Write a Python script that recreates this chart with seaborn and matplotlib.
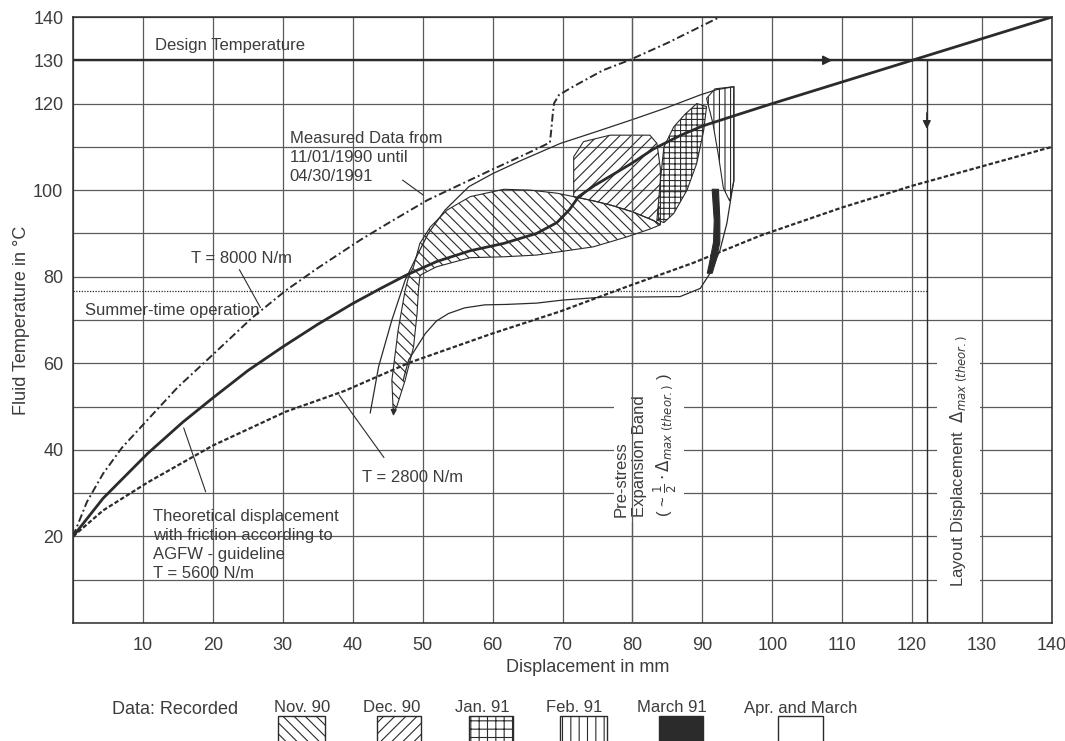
import matplotlib
matplotlib.use("Agg")
import matplotlib.pyplot as plt
from matplotlib.patches import Rectangle
import seaborn as sns

# ---- data (displacement in mm, temperature in degC) ----
# theoretical displacement with friction, AGFW guideline, T = 5600 N/m
t5600_x = [0, 4.3, 10.7, 15.7, 20, 25, 30, 35, 40, 44, 47.7, 52, 56.8, 61.6, 66.3, 69.2, 71,
           72.3, 74.5, 76.8, 80, 83, 86.8, 90, 94.2, 100, 110, 120, 130, 140]
t5600_y = [20, 28.8, 39.2, 46.4, 52, 58.3, 63.8, 69, 73.8, 77.3, 80.4, 83.5, 86, 87.7, 90, 92.5, 95.5,
           98.5, 101, 103.2, 106.3, 109.5, 112.6, 114.8, 117, 120, 125, 130, 135, 140]

# T = 8000 N/m (kinks upward near 68 mm)
t8000_x = [0, 2, 4.3, 7, 10.7, 15, 20, 25.6, 30.5, 35, 41.1, 45, 50.7, 55, 60, 65.5, 68.2,
           68.4, 68.6, 68.8, 69.5, 71.5, 75.8, 79.5, 85, 92.5]
t8000_y = [20, 28, 34.5, 40.5, 47, 54.5, 62, 70.5, 76.9, 82, 88.5, 92.3, 97.7, 101, 104.8, 108.9, 111,
           114, 117.5, 120.1, 122, 123.9, 127.7, 130, 134, 140]

# T = 2800 N/m
t2800_x = [0, 4.3, 10.7, 20, 30.4, 38.8, 48.2, 60, 69.7, 79.2, 88.7, 98.3, 110, 120, 130, 140]
t2800_y = [20, 26, 32.5, 41, 48.8, 53.6, 60.2, 66.9, 72, 77.7, 83.2, 89.5, 96, 101, 105.5, 110]

# measured data regions
nov_x = [45.8, 45.6, 46.5, 47.5, 48.0, 48.7, 49.6, 51.1, 53.5, 56.8, 61.6, 65.4, 69.2, 71.6, 74.5, 77,
         80, 83, 84, 82.5, 79.2, 74.4, 69.7, 66.3, 61.6, 56.8, 52, 49.8, 49.6, 49.4, 49.2, 48.7, 47.5, 46.3]
nov_y = [48.5, 56.1, 67.7, 76.9, 80, 82.3, 87.7, 91.5, 95.4, 98.5, 100.2, 100, 99.3, 98.5, 97.5, 96.5,
         95, 93, 92, 91, 89.2, 86.9, 85.8, 85, 84.6, 84.4, 82.3, 80.5, 80, 76.9, 71.5, 63.8, 56.1, 50]

dec_x = [71.6, 71.6, 71.6, 73, 76.8, 82.5, 83.5, 84, 84, 84, 83, 80, 77, 74.5]
dec_y = [98.5, 102.3, 107.7, 111.2, 112.7, 112.7, 110.8, 105, 100, 92, 93, 95, 96.5, 97.5]

jan_x = [83.5, 84, 84.5, 85.9, 87.5, 89.2, 90.6, 90.2, 89.2, 87.8, 85.9, 84.5]
jan_y = [93.1, 102.3, 110, 114.6, 117.5, 120, 119.3, 113.9, 106.2, 100, 94.6, 92.5]

feb_x = [90.6, 91.8, 94.5, 94.5, 93.9, 93.0, 92.3, 91.5]
feb_y = [121.2, 123.4, 123.9, 102, 97.5, 100.5, 108, 115.5]

mar_x = [91.4, 91.7, 91.6, 91.0, 90.7, 91.4, 92.0, 92.5, 92.5, 92.3]
mar_y = [100.2, 93, 88, 83, 80.8, 80.8, 84, 88, 93, 100.2]

# "Apr. and March" envelope (open outline)
env_x = [42.5, 43.7, 45.6, 47.5, 48.9, 50.8, 53.2, 56.6, 60, 64, 69.7, 75, 80, 85, 89.7, 92, 94.5,
         94.5, 94.5, 93.5, 92.5, 91.1, 89.7, 86.8, 80, 75.9, 70, 66.3, 62, 58.9, 56, 53.7, 52, 50.4, 48, 47.2]
env_y = [48.5, 59.2, 70, 79.2, 83.9, 90, 95.4, 100.8, 103.8, 106.8, 110.8, 113.6, 116.3, 119.1, 122,
         123.2, 123.9, 115, 102.3, 92.3, 86, 80.8, 77.3, 75.4, 75.3, 75.3, 74.6, 73.9, 73.6, 73.5, 72.8,
         71.5, 69.8, 66.9, 60.8, 56]

design_temp = 130
summer_temp = 76.8
layout_disp = 122.1

x_ticks = list(range(0, 141, 10))
x_tick_labels = [""] + [str(v) for v in range(10, 141, 10)]
y_ticks = list(range(0, 141, 10))
y_tick_labels = ["", "", "20", "", "40", "", "60", "", "80", "", "100", "", "120", "130", "140"]

legend_labels = ["Nov. 90", "Dec. 90", "Jan. 91", "Feb. 91", "March 91", "Apr. and March"]

# ---- styling ----
sns.set_style("white")
plt.rcParams["font.family"] = ["Liberation Sans", "DejaVu Sans"]
plt.rcParams["hatch.linewidth"] = 0.8
plt.rcParams["hatch.color"] = "#333333"

ink = "#2b2b2b"
txt = "#3c3c3c"
grid_c = "#5a5a5a"

fig = plt.figure(figsize=(10.65, 7.41), dpi=100)
ax = fig.add_axes([73 / 1065, 1 - 623 / 741, 979 / 1065, 606 / 741])

ax.set_xlim(0, 140)
ax.set_ylim(0, 140)
ax.set_xticks(x_ticks)
ax.set_xticklabels(x_tick_labels)
ax.set_yticks(y_ticks)
ax.set_yticklabels(y_tick_labels)
ax.tick_params(axis="both", length=0, labelsize=13, labelcolor=txt)
ax.tick_params(axis="x", pad=10)
ax.tick_params(axis="y", pad=7)
ax.set_axisbelow(True)
ax.grid(True, color=grid_c, lw=0.9)
for sp in ax.spines.values():
    sp.set_color(ink)
    sp.set_linewidth(1.1)

# reference lines
ax.axhline(design_temp, color=ink, lw=1.7, zorder=1)
ax.hlines(summer_temp, 0, layout_disp, colors=ink, lw=0.9, linestyles=(0, (1, 1.2)), zorder=1)
ax.vlines(layout_disp, 0, design_temp, colors=ink, lw=1.0, zorder=1)
ax.annotate("", xy=(109, design_temp), xytext=(105.5, design_temp),
            arrowprops=dict(arrowstyle="-|>", color=ink, lw=1.2, mutation_scale=14))
ax.annotate("", xy=(layout_disp, 113.5), xytext=(layout_disp, 118.5),
            arrowprops=dict(arrowstyle="-|>", color=ink, lw=1.0, mutation_scale=12))

# measured regions
ax.fill(nov_x, nov_y, facecolor="none", edgecolor=ink, hatch="\\\\\\", lw=0.8, zorder=2)
ax.fill(dec_x, dec_y, facecolor="none", edgecolor=ink, hatch="///", lw=0.8, zorder=2)
ax.fill(jan_x, jan_y, facecolor="none", edgecolor=ink, hatch="+++", lw=0.8, zorder=2)
ax.fill(feb_x, feb_y, facecolor="none", edgecolor=ink, hatch="|||", lw=0.8, zorder=2)
ax.fill(mar_x, mar_y, facecolor=ink, edgecolor=ink, lw=0.8, zorder=3)
sns.lineplot(x=env_x, y=env_y, ax=ax, color=ink, lw=0.9, estimator=None, sort=False, zorder=2)
ax.annotate("", xy=(45.8, 47.2), xytext=(45.9, 50.5),
            arrowprops=dict(arrowstyle="-|>", color=ink, lw=0.8, mutation_scale=9))

# theoretical curves
sns.lineplot(x=t5600_x, y=t5600_y, ax=ax, color=ink, lw=2.0, estimator=None, sort=False, zorder=4)
sns.lineplot(x=t8000_x, y=t8000_y, ax=ax, color=ink, lw=1.4, estimator=None, sort=False, zorder=4,
             linestyle=(0, (4, 1.6, 1, 1.6)))
sns.lineplot(x=t2800_x, y=t2800_y, ax=ax, color=ink, lw=1.6, estimator=None, sort=False, zorder=4,
             linestyle=(0, (2, 1)))

# annotations
fs = 12
ax.text(11.7, 133.5, "Design Temperature", fontsize=fs, color=txt, va="center")
ax.text(1.65, 72.3, "Summer-time operation", fontsize=fs, color=txt, va="center")
ax.text(16.9, 84.3, "T = 8000 N/m", fontsize=fs, color=txt, va="center")
ax.annotate("", xy=(27, 72.3), xytext=(23.6, 82.2),
            arrowprops=dict(arrowstyle="-", color=ink, lw=0.8))
ax.text(31.0, 107.5, "Measured Data from\n11/01/1990 until\n04/30/1991", fontsize=fs,
        color=txt, va="center", linespacing=1.35)
ax.annotate("", xy=(50.4, 98.5), xytext=(46.8, 102.7),
            arrowprops=dict(arrowstyle="-", color=ink, lw=0.8))
ax.text(41.3, 33.7, "T = 2800 N/m", fontsize=fs, color=txt, va="center")
ax.annotate("", xy=(37.8, 53.2), xytext=(44.7, 37.7),
            arrowprops=dict(arrowstyle="-", color=ink, lw=0.8))
ax.text(11.5, 18.0, "Theoretical displacement\nwith friction according to\nAGFW - guideline\nT = 5600 N/m",
        fontsize=fs, color=txt, va="center", linespacing=1.35)
ax.annotate("", xy=(15.7, 45.7), xytext=(19.1, 29.7),
            arrowprops=dict(arrowstyle="-", color=ink, lw=0.8))

ax.text(82.0, 24.5, "Pre-stress\nExpansion Band\n" + r"( ~ $\frac{1}{2}\cdot\Delta_{max\ (theor.)}$ )",
        rotation=90, fontsize=fs, color=txt, ha="center", va="bottom", multialignment="left",
        linespacing=1.25, bbox=dict(facecolor="white", edgecolor="none", pad=4), zorder=3)
ax.axvline(80, color=grid_c, lw=0.9, zorder=3.5)
ax.text(126.6, 8.4, r"Layout Displacement  $\Delta_{max\ (theor.)}$", rotation=90, fontsize=fs,
        color=txt, ha="center", va="bottom", bbox=dict(facecolor="white", edgecolor="none", pad=8),
        zorder=3)

ax.set_xlabel("Displacement in mm", fontsize=13, color=txt)
ax.xaxis.set_label_coords(0.5255, -0.059)
ax.set_ylabel("Fluid Temperature in \u00b0C", fontsize=13, color=txt, labelpad=2)

# legend strip below the chart
fig.text(112 / 1065, 1 - 710 / 741, "Data: Recorded", fontsize=13, color=txt, ha="left", va="center")
label_cx = [302, 392, 482, 574, 672, 801]
swatch_x = [278, 377, 469, 560, 659, 778]
swatch_w = [47, 44, 44, 47, 44, 45]
swatch_hatch = ["\\\\\\", "///", "++", "||", None, None]
swatch_face = ["none", "none", "none", "none", ink, "none"]
for lab, cx, sx, sw, h, fc in zip(legend_labels, label_cx, swatch_x, swatch_w, swatch_hatch, swatch_face):
    fig.text(cx / 1065, 1 - 708 / 741, lab, fontsize=12, color=txt, ha="center", va="center")
    rect = Rectangle((sx / 1065, 1 - 748 / 741), sw / 1065, 32 / 741, transform=fig.transFigure,
                     facecolor=fc, edgecolor=ink, lw=1.0, hatch=h)
    fig.add_artist(rect)

fig.savefig("out.png", dpi=100)
